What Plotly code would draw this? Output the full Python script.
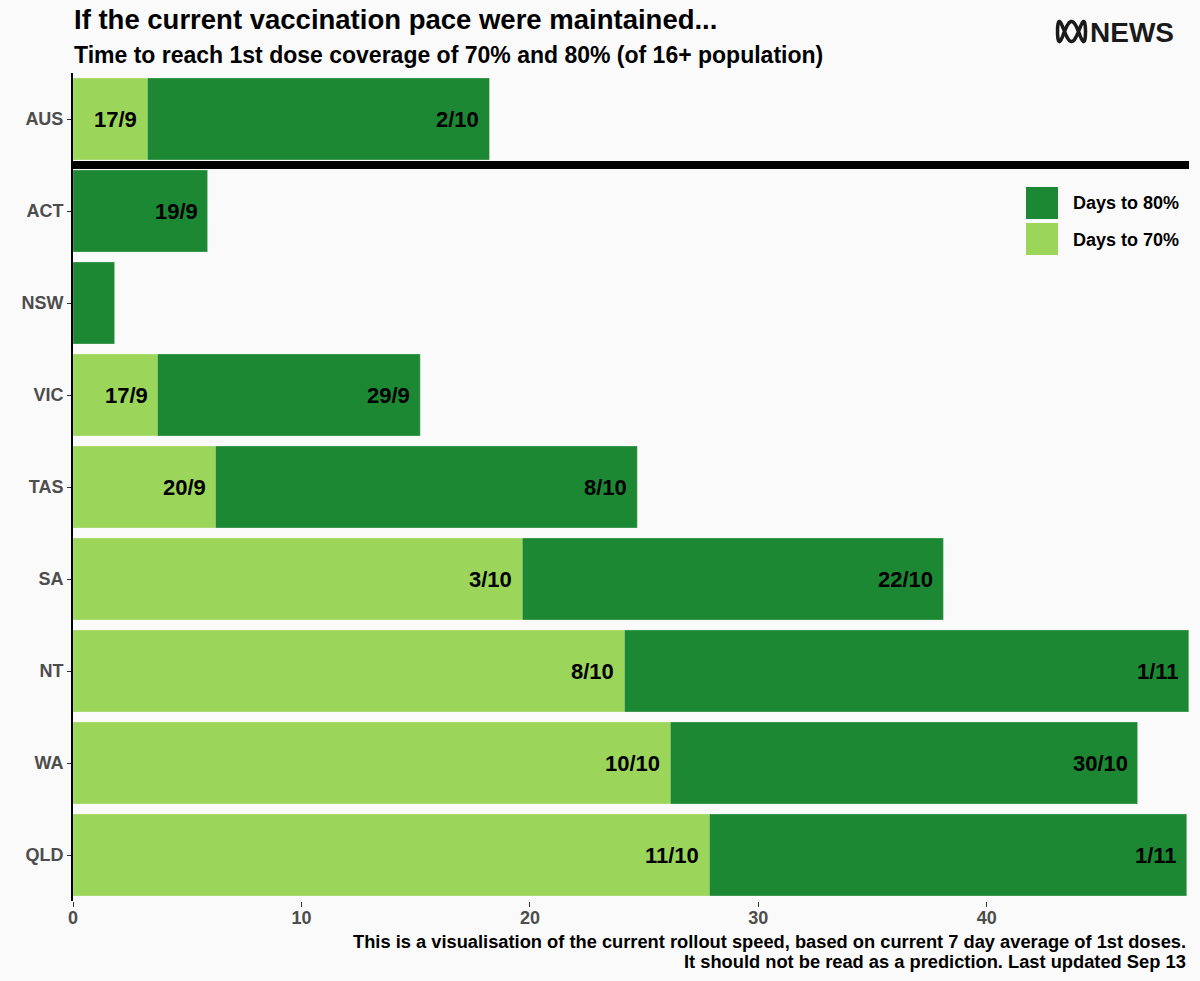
import numpy as np
import plotly.graph_objects as go

# ---- data ----
regions = ["AUS", "ACT", "NSW", "VIC", "TAS", "SA", "NT", "WA", "QLD"]
days_to_80 = [18.23, 5.89, 1.82, 15.2, 24.7, 38.1, 48.84, 46.6, 48.75]
days_to_70 = [3.26, None, None, 3.7, 6.24, 19.67, 24.14, 26.15, 27.86]
date_80 = ["2/10", "19/9", "", "29/9", "8/10", "22/10", "1/11", "30/10", "1/11"]
date_70 = ["17/9", "", "", "17/9", "20/9", "3/10", "8/10", "10/10", "11/10"]
x_ticks = [0, 10, 20, 30, 40]

DARK = "#1c8833"
LIGHT = "#9bd65a"
BG = "#fafafa"
FONT = "Liberation Sans, Arial, sans-serif"

W, H = 1200, 981
L, R, T, B = 73, 1189, 73, 901


def px(x):
    return (x - L) / (R - L)


def py(y):
    return (B - y) / (B - T)


fig = go.Figure()
fig.add_trace(go.Bar(y=regions, x=days_to_80, orientation="h", marker_color=DARK,
                     marker_line=dict(color="rgba(255,255,255,0.25)", width=1),
                     name="Days to 80%", width=0.89, hoverinfo="x+y"))
fig.add_trace(go.Bar(y=regions, x=days_to_70, orientation="h", marker_color=LIGHT,
                     marker_line=dict(color="rgba(255,255,255,0.25)", width=1),
                     name="Days to 70%", width=0.89, hoverinfo="x+y"))

LBL = dict(family=FONT, size=22, color="black", weight="bold")
annotations = []
for r, v, t in zip(regions, days_to_80, date_80):
    if t:
        annotations.append(dict(x=v, y=r, xref="x", yref="y", text=t,
                                showarrow=False, xanchor="right", xshift=-8, font=LBL))
for r, v, t in zip(regions, days_to_70, date_70):
    if t and v is not None:
        annotations.append(dict(x=v, y=r, xref="x", yref="y", text=t,
                                showarrow=False, xanchor="right", xshift=-8, font=LBL))

# titles
annotations.append(dict(x=px(72), y=py(20), xref="paper", yref="paper", showarrow=False,
                        xanchor="left", yanchor="middle",
                        text="If the current vaccination pace were maintained...",
                        font=dict(family=FONT, size=27.5, color="black", weight="bold")))
annotations.append(dict(x=px(72), y=py(55), xref="paper", yref="paper", showarrow=False,
                        xanchor="left", yanchor="middle",
                        text="Time to reach 1st dose coverage of 70% and 80% (of 16+ population)",
                        font=dict(family=FONT, size=23, color="black", weight="bold")))
# caption
annotations.append(dict(x=px(1188), y=py(941), xref="paper", yref="paper", showarrow=False,
                        xanchor="right", yanchor="middle",
                        text="This is a visualisation of the current rollout speed, based on current 7 day average of 1st doses.",
                        font=dict(family=FONT, size=18.3, color="black", weight="bold")))
annotations.append(dict(x=px(1188), y=py(961), xref="paper", yref="paper", showarrow=False,
                        xanchor="right", yanchor="middle",
                        text="It should not be read as a prediction. Last updated Sep 13",
                        font=dict(family=FONT, size=18.3, color="black", weight="bold")))
# logo text
annotations.append(dict(x=px(1176), y=py(32), xref="paper", yref="paper", showarrow=False,
                        xanchor="right", yanchor="middle",
                        text="NEWS",
                        font=dict(family=FONT, size=28, color="#1a1a1a", weight="bold")))
# legend labels
annotations.append(dict(x=px(1071), y=py(203), xref="paper", yref="paper", showarrow=False,
                        xanchor="left", yanchor="middle", text="Days to 80%",
                        font=dict(family=FONT, size=18, color="black", weight="bold")))
annotations.append(dict(x=px(1071), y=py(240), xref="paper", yref="paper", showarrow=False,
                        xanchor="left", yanchor="middle", text="Days to 70%",
                        font=dict(family=FONT, size=18, color="black", weight="bold")))

shapes = []
# separator line between AUS and states
shapes.append(dict(type="line", xref="paper", yref="y", x0=0, x1=1, y0=0.5, y1=0.5,
                   line=dict(color="black", width=8), layer="above"))
# legend keys
shapes.append(dict(type="rect", xref="paper", yref="paper", x0=px(1026), x1=px(1058),
                   y0=py(219), y1=py(187), fillcolor=DARK, line=dict(width=0)))
shapes.append(dict(type="rect", xref="paper", yref="paper", x0=px(1026), x1=px(1058),
                   y0=py(255), y1=py(223), fillcolor=LIGHT, line=dict(width=0)))
# ABC logo (Lissajous curve)
t = np.linspace(0, 2 * np.pi, 200)
lx = 1071.5 + 14 * np.sin(t)
ly = 31.5 - 10 * np.cos(3 * t)
path = "M " + " L ".join("%.4f,%.4f" % (px(a), py(b)) for a, b in zip(lx, ly)) + " Z"
shapes.append(dict(type="path", xref="paper", yref="paper", path=path,
                   line=dict(color="#1a1a1a", width=3.5)))

fig.update_layout(
    width=W, height=H,
    margin=dict(l=L, r=W - R, t=T, b=H - B),
    paper_bgcolor=BG, plot_bgcolor=BG,
    barmode="overlay", bargap=0.11,
    showlegend=False,
    annotations=annotations, shapes=shapes,
    font=dict(family=FONT),
)
fig.update_xaxes(range=[0, 48.85], tickvals=x_ticks, ticktext=[str(v) for v in x_ticks],
                 showgrid=False, zeroline=False, showline=False,
                 ticks="outside", ticklen=5, tickcolor="#333333", tickwidth=1,
                 ticklabelstandoff=-5,
                 tickfont=dict(family=FONT, size=18, color="#4d4d4d", weight="bold"))
fig.update_yaxes(categoryorder="array", categoryarray=regions, range=[8.5, -0.5],
                 showgrid=False, zeroline=False, showline=True, linecolor="black", linewidth=2,
                 ticks="outside", ticklen=4, tickcolor="#333333", tickwidth=1,
                 tickfont=dict(family=FONT, size=18, color="#4d4d4d", weight="bold"))

fig.write_html("out.html", config={"displayModeBar": False},
               post_script="document.body.style.margin='0';document.body.style.overflow='hidden';")
